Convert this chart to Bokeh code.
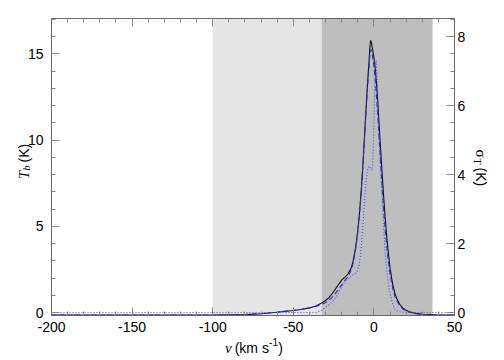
import math
from bokeh.plotting import figure
from bokeh.models import (Range1d, LinearAxis, SingleIntervalTicker, BoxAnnotation,
                          Label, CustomJSTickFormatter)
from bokeh.embed import file_html
from bokeh.resources import INLINE

# ---------------- data ----------------
# velocity grid for observed brightness temperature and model (km/s)
v_tb = [-200, -150, -100, -80, -70, -60, -50, -45, -40, -36,
        -33, -30, -28, -26, -24, -22, -20, -18, -16, -14,
        -13, -12, -11, -10, -9, -8, -7, -6, -5, -4,
        -3, -2.5, -2, -1.5, -1, 0, 1, 2, 3, 4,
        5, 6, 7, 8, 9, 10, 11, 12, 13, 14,
        16, 18, 20, 22, 25, 30, 40, 50]
# observed T_b (K), solid black
tb_obs = [-0.15, -0.15, -0.15, -0.12, -0.07, 0.02, 0.12, 0.18, 0.27, 0.38,
          0.52, 0.70, 0.85, 1.08, 1.35, 1.62, 1.88, 2.05, 2.25, 2.60,
          2.95, 3.40, 4.00, 4.75, 5.70, 6.90, 8.30, 9.90, 11.6, 13.2,
          14.6, 15.4, 15.78, 15.65, 15.35, 14.8, 14.0, 12.8, 11.3, 9.7,
          8.2, 6.8, 5.5, 4.35, 3.4, 2.6, 2.0, 1.5, 1.12, 0.85,
          0.48, 0.26, 0.13, 0.05, -0.03, -0.10, -0.14, -0.15]
# model T_b (K), dashed blue
tb_model = [-0.15, -0.15, -0.15, -0.12, -0.06, 0.03, 0.13, 0.19, 0.27, 0.36,
            0.46, 0.58, 0.70, 0.88, 1.10, 1.35, 1.60, 1.85, 2.10, 2.48,
            2.82, 3.30, 3.90, 4.65, 5.60, 6.80, 8.20, 9.80, 11.5, 13.0,
            14.3, 14.95, 15.25, 15.2, 14.95, 14.3, 13.3, 12.0, 10.5, 8.9,
            7.4, 6.0, 4.8, 3.8, 2.95, 2.25, 1.7, 1.28, 0.95, 0.72,
            0.40, 0.20, 0.09, 0.02, -0.05, -0.11, -0.14, -0.15]
# sigma_T (K, right axis), dotted blue
v_sig = [-200, -150, -100, -50, -36,
         -33, -30, -28, -26, -24, -22, -20, -18, -16, -14,
         -12, -10, -9, -8, -7, -6, -5, -4, -3, -2,
         -1, -0.5, 0, 0.5, 1, 1.5, 2, 2.5, 3, 4,
         5, 6, 7, 8, 9, 10, 11, 12, 13, 14,
         16, 18, 20, 30, 50]
sig_t = [0, 0, 0, 0, 0,
         0.05, 0.15, 0.22, 0.31, 0.42, 0.57, 0.75, 0.90, 0.99, 1.05,
         1.12, 1.22, 1.40, 1.80, 2.40, 3.10, 3.75, 4.12, 4.25, 4.18,
         4.12, 4.6, 5.5, 6.6, 7.2, 7.3, 6.8, 6.0, 5.2, 4.35,
         3.5, 2.5, 1.75, 1.2, 0.8, 0.55, 0.35, 0.2, 0.11, 0.06,
         0.025, 0.01, 0, 0, 0]
# shaded velocity intervals (km/s)
band_light = (-100, -32.4)
band_dark = (-32.4, 36.4)

# ---------------- layout ----------------
W, H = 496, 358                    # canvas = frame (so titles are not clipped)
PL, PT, PW, PH = 51, 18, 403, 297  # plotting box inside the canvas (pixels)
XMIN, XMAX = -200, 50
YMIN, YMAX = -0.17, 17.05
RMIN, RMAX = YMIN / 2.0, YMAX / 2.0

sx = PW / (XMAX - XMIN)
sy = PH / (YMAX - YMIN)
x_range = Range1d(XMIN - PL / sx, XMAX + (W - PL - PW) / sx)
y_range = Range1d(YMIN - (H - PT - PH) / sy, YMAX + PT / sy)
r_range = Range1d(0.5 * y_range.start, 0.5 * y_range.end)

p = figure(frame_width=W, frame_height=H, x_range=x_range, y_range=y_range,
           output_backend="svg", toolbar_location=None,
           x_axis_location=None, y_axis_location=None,
           min_border_left=0, min_border_right=0,
           min_border_top=0, min_border_bottom=0)
p.extra_y_ranges = {"sig": r_range}
p.grid.visible = False
p.outline_line_color = None
p.background_fill_color = "white"
p.border_fill_color = "white"

FONT = "Liberation Sans"
SERIF = "Liberation Serif"
PLAIN = CustomJSTickFormatter(code="return tick.toFixed(0)")   # ASCII hyphen minus


def style(ax, standoff):
    ax.axis_line_color = "#666666"
    ax.major_tick_line_color = "#888888"
    ax.minor_tick_line_color = "#888888"
    ax.major_tick_in = 8
    ax.major_tick_out = 0
    ax.minor_tick_in = 4
    ax.minor_tick_out = 0
    ax.major_label_text_font = FONT
    ax.major_label_text_font_size = "14px"
    ax.major_label_text_color = "black"
    ax.major_label_standoff = standoff


bottom = LinearAxis(fixed_location=YMIN, bounds=(XMIN, XMAX),
                    ticker=SingleIntervalTicker(interval=50, num_minor_ticks=5),
                    formatter=PLAIN)
style(bottom, 6)
p.add_layout(bottom, "below")

top = LinearAxis(fixed_location=YMAX, bounds=(XMIN, XMAX),
                 ticker=SingleIntervalTicker(interval=50, num_minor_ticks=5),
                 formatter=CustomJSTickFormatter(code="return ''"))
style(top, 0)
p.add_layout(top, "above")

left = LinearAxis(fixed_location=XMIN, bounds=(YMIN, YMAX),
                  ticker=SingleIntervalTicker(interval=5, num_minor_ticks=5),
                  formatter=CustomJSTickFormatter(code="return tick.toFixed(0)"))
style(left, 8)
p.add_layout(left, "left")

right = LinearAxis(y_range_name="sig", fixed_location=XMAX, bounds=(RMIN, RMAX),
                   ticker=SingleIntervalTicker(interval=2, num_minor_ticks=4),
                   formatter=CustomJSTickFormatter(code="return tick.toFixed(0)"))
style(right, 3)
p.add_layout(right, "right")

p.add_layout(BoxAnnotation(left=band_light[0], right=band_light[1],
                           bottom=YMIN, top=YMAX,
                           fill_color="#e5e5e5", fill_alpha=1.0,
                           line_color=None, level="underlay"))
p.add_layout(BoxAnnotation(left=band_dark[0], right=band_dark[1],
                           bottom=YMIN, top=YMAX,
                           fill_color="#bebebe", fill_alpha=1.0,
                           line_color=None, level="underlay"))

p.line(v_tb, tb_obs, line_color="#111111", line_width=1.1)
p.line(v_tb, tb_model, line_color="#2a2ad8", line_width=1.1, line_dash="5 3")
p.line(v_sig, sig_t, y_range_name="sig", line_color="#4646ff",
       line_width=1.1, line_dash="1 2")


# ---------------- axis titles (pieces of real text) ----------------
# positions in canvas pixels from the top-left corner
def lab(text, px, py, font, size, style_="normal", angle=0.0):
    p.add_layout(Label(x=px, y=H - py, x_units="screen", y_units="screen",
                       text=text, angle=angle,
                       text_font=font, text_font_size=size,
                       text_font_style=style_, text_color="black",
                       text_align="left", text_baseline="alphabetic"))


# x title: v (km s^-1)
lab("v", 224.5, 347, SERIF, "15px", "italic")
lab("(km s", 234.2, 347, FONT, "14px")
lab("-1", 268.6, 341.5, FONT, "10px")
lab(")", 277.7, 347, FONT, "14px")

# left title: T_b (K), rotated counter-clockwise (reads upward)
lab("T", 23, 178.5, SERIF, "15px", "italic", math.pi / 2)
lab("b", 26, 170.0, SERIF, "10px", "italic", math.pi / 2)
lab("(K)", 23, 162.0, FONT, "14px", "normal", math.pi / 2)

# right title: sigma_T (K), rotated clockwise (reads downward)
lab("σ", 480, 149, SERIF, "15px", "normal", -math.pi / 2)
lab("T", 477, 158, SERIF, "10px", "normal", -math.pi / 2)
lab("(K)", 480, 167, FONT, "14px", "normal", -math.pi / 2)

open("out.html", "w").write(file_html(p, INLINE))
